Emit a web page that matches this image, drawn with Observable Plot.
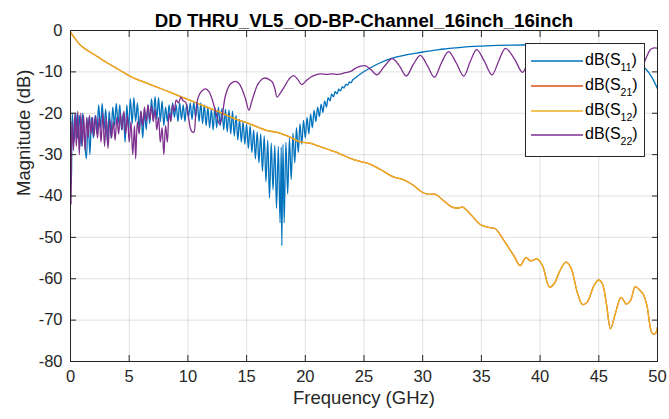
<!DOCTYPE html>
<html>
<head>
<meta charset="utf-8">
<script src="https://cdn.jsdelivr.net/npm/d3@7"></script>
<script src="https://cdn.jsdelivr.net/npm/@observablehq/plot@0.6"></script>
<style>
  html, body { margin: 0; padding: 0; background: #fff; }
  #chart { position: relative; width: 669px; height: 419px; font-family: "Liberation Sans", Arial, Helvetica, sans-serif; }
  #legend { position: absolute; left: 525px; top: 43px; width: 120px; height: 114px; background: #fff; border: 1px solid #262626; box-sizing: border-box; }
  #legend svg { position: absolute; left: 0; top: 0; }
  #legend .lbl { position: absolute; left: 59px; font-size: 16px; line-height: 18px; color: #000; white-space: nowrap; }
  #legend .lbl sub { font-size: 10.5px; vertical-align: -6px; line-height: 0; }
</style>
</head>
<body>
<div id="chart"></div>
<script>
// Axis ticks
const xTicks = [0, 5, 10, 15, 20, 25, 30, 35, 40, 45, 50];
const yTicks = [-80, -70, -60, -50, -40, -30, -20, -10, 0];

// Series names and colours (MATLAB default line order)
const seriesNames = ["S11", "S21", "S12", "S22"];
const seriesColors = ["#0072BD", "#D95319", "#EDB120", "#7E2F8E"];

// dB(S11): [frequency GHz, magnitude dB]
const s11 = [
  [0, -24], [0.08, -37], [0.15, -20], [0.3, -27], [0.45, -20], [0.6, -26], [0.75, -20.5], [0.9, -28],
  [1.05, -20], [1.2, -27], [1.35, -31], [1.5, -21], [1.65, -30], [1.8, -21], [1.95, -26], [2.1, -20.5],
  [2.25, -25], [2.4, -18], [2.55, -23.5], [2.7, -17.6], [2.85, -24], [3.0, -19], [3.15, -27.5], [3.3, -19.5],
  [3.45, -26], [3.6, -18.5], [3.75, -23], [3.9, -17.6], [4.05, -22.5], [4.2, -18], [4.35, -24], [4.5, -20],
  [4.65, -27], [4.8, -18], [4.95, -24], [5.1, -16.5], [5.25, -22.5], [5.4, -16.2], [5.55, -22], [5.7, -17.5],
  [5.85, -24], [6.0, -19.5], [6.15, -26], [6.3, -19.5], [6.45, -24], [6.6, -18], [6.75, -22.5], [6.9, -16.5],
  [7.05, -21.5], [7.2, -16], [7.35, -21.5], [7.5, -16.2], [7.65, -22], [7.8, -17], [7.95, -23], [8.1, -18.5],
  [8.25, -22], [8.4, -18], [8.55, -21.5], [8.7, -17.5], [8.85, -21], [9.0, -18], [9.15, -22], [9.3, -17.5],
  [9.45, -21.5], [9.6, -18], [9.75, -22], [9.9, -17.8], [10.05, -21], [10.2, -17.5], [10.35, -21.5], [10.5, -17.3],
  [10.65, -21], [10.8, -17.3], [10.95, -22], [11.1, -17.5], [11.25, -22.5], [11.4, -18], [11.55, -23], [11.7, -18.5],
  [11.85, -23.5], [12.0, -19], [12.15, -24], [12.3, -18.5], [12.45, -23.5], [12.6, -18.5], [12.75, -23], [12.9, -18.8],
  [13.05, -24], [13.2, -19], [13.35, -24.5], [13.5, -19.2], [13.65, -25], [13.8, -19.5], [13.95, -25.5], [14.1, -20.5],
  [14.25, -26.5], [14.4, -21.5], [14.55, -27], [14.7, -22], [14.85, -27.5], [15.0, -22.5], [15.15, -28.5], [15.3, -23],
  [15.45, -29.5], [15.6, -24], [15.75, -31], [15.9, -24.5], [16.05, -32], [16.2, -25], [16.35, -34], [16.5, -25.5],
  [16.65, -36.5], [16.8, -26.5], [16.95, -40.5], [17.1, -27.2], [17.25, -38.5], [17.4, -27.8], [17.55, -43], [17.7, -28],
  [17.85, -46.5], [17.95, -28.2], [18.0, -52], [18.1, -27.5], [18.2, -46.5], [18.35, -27], [18.5, -39.5], [18.65, -26],
  [18.8, -36], [18.95, -24.8], [19.1, -32], [19.25, -23.5], [19.4, -29.5], [19.55, -22.5], [19.7, -27.5], [19.85, -21.7],
  [20.0, -26], [20.15, -21], [20.3, -25], [20.45, -20.2], [20.6, -23.5], [20.75, -19.3], [20.9, -22], [21.05, -18.5],
  [21.2, -20.8], [21.35, -17.8], [21.5, -19.8], [21.65, -17], [21.8, -18.5], [21.95, -16.2], [22.1, -17.0], [22.25, -15.4],
  [22.4, -16.0], [22.55, -14.8], [22.7, -15.3], [22.85, -14.2], [23.0, -14.6], [23.15, -13.6], [23.3, -13.9], [23.45, -13.0],
  [23.6, -13.2], [23.75, -12.5], [23.9, -12.6], [24.05, -11.9], [24.3, -11.4], [24.6, -10.7], [25.0, -9.9], [25.7, -8.8],
  [26.4, -7.8], [27.1, -7.0], [27.8, -6.4], [28.5, -5.95], [29.2, -5.6], [30.0, -5.2], [30.7, -4.9], [31.4, -4.6],
  [32.1, -4.4], [33.5, -4.0], [34.9, -3.8], [36.3, -3.6], [38.6, -3.5], [40.0, -3.4], [41.5, -3.4], [43.0, -3.6],
  [44.5, -4.1], [46.0, -5.0], [47.0, -5.9], [48.0, -7.3], [49.0, -9.3], [49.5, -11.2], [50.0, -14.1]
];

// dB(S12) — the thru path; dB(S21) carries the same values
const s12 = [
  [0, -0.3], [0.1, -0.8], [0.3, -1.6], [0.5, -2.4], [0.7, -3.1], [1, -3.9], [1.5, -4.9], [2, -5.8],
  [2.4, -6.5], [3, -7.6], [3.8, -8.9], [4.5, -10.1], [5.25, -11.3], [6, -12.2], [6.65, -12.9], [7.3, -13.6],
  [8.1, -14.5], [8.8, -15.3], [9.5, -16.1], [10.2, -16.9], [10.9, -17.7], [11.6, -18.5], [12.35, -19.3], [13.1, -20.2],
  [13.8, -21.1], [14.5, -21.8], [15.2, -22.5], [16.0, -23.4], [16.75, -24.2], [17.6, -24.6], [18.3, -25.3], [19.0, -26.2],
  [19.6, -27.0], [20.4, -27.2], [21.1, -27.9], [21.9, -28.7], [22.5, -29.3], [23.1, -30.0], [23.85, -30.9], [24.6, -31.6],
  [25.4, -32.2], [26.4, -33.6], [27.5, -35.4], [28.4, -36.1], [29.2, -37.4], [29.95, -39.1], [30.5, -39.6], [31.1, -39.6],
  [31.8, -41.2], [32.5, -42.7], [33.0, -42.9], [33.4, -42.7], [34.2, -44.8], [34.9, -46.9], [35.6, -47.6], [36.2, -47.9],
  [36.7, -49.8], [37.3, -52.4], [37.8, -54.6], [38.3, -56.8], [38.8, -54.9], [39.2, -55.7], [39.75, -55.2], [40.2, -56.8],
  [40.8, -62.0], [41.2, -61.2], [41.7, -58.0], [42.2, -56.0], [42.6, -57.2], [43.2, -63.6], [43.6, -66.2], [44.0, -65.7],
  [44.6, -61.6], [45.0, -60.3], [45.3, -61.2], [45.65, -66.1], [46.0, -72.1], [46.4, -68.5], [46.9, -64.5], [47.35, -66.1],
  [47.7, -65.3], [48.1, -61.9], [48.5, -62.8], [48.8, -63.8], [49.1, -66.5], [49.55, -73.2], [49.8, -73.3], [50, -71.7]
];
const s21 = s12;

// dB(S22)
const s22 = [
  [0, -26], [0.05, -42], [0.12, -22], [0.25, -29], [0.38, -20], [0.5, -28], [0.62, -19.5], [0.75, -30],
  [0.88, -20], [1.0, -28], [1.12, -20.5], [1.25, -29], [1.38, -21], [1.5, -26], [1.62, -20.5], [1.75, -25],
  [1.88, -21], [2.0, -25.5], [2.15, -20.5], [2.3, -26], [2.45, -21], [2.6, -27], [2.75, -20], [2.9, -28],
  [3.05, -21], [3.2, -28.5], [3.35, -21.5], [3.5, -26], [3.65, -22], [3.8, -26.5], [3.95, -21], [4.1, -25],
  [4.25, -20], [4.4, -24], [4.55, -19.5], [4.7, -25], [4.85, -20.5], [5.0, -27], [5.15, -22], [5.3, -30],
  [5.45, -23], [5.55, -31], [5.7, -22], [5.85, -25], [6.0, -19.5], [6.15, -23], [6.3, -18.5], [6.45, -22],
  [6.6, -18], [6.75, -21.5], [6.9, -18.2], [7.05, -22], [7.2, -19], [7.35, -24], [7.5, -21], [7.65, -27],
  [7.8, -23.5], [7.95, -30], [8.1, -23], [8.25, -27], [8.4, -20], [8.55, -22], [8.7, -18], [8.85, -19.5],
  [9.0, -16.8], [9.2, -17.5], [9.4, -16.1], [9.6, -17], [9.8, -17.3], [10.0, -20], [10.2, -23.5], [10.35, -24.5],
  [10.5, -24.6], [10.65, -21], [10.8, -17], [11.1, -14.9], [11.5, -14.1], [11.8, -14.8], [12.05, -16.5], [12.4, -20],
  [12.7, -22.6], [12.9, -21], [13.2, -15.7], [13.6, -13], [14.05, -12.3], [14.35, -12.8], [14.6, -14.1], [14.9, -16.5],
  [15.2, -19.3], [15.4, -17.5], [15.6, -15.7], [16.0, -12.8], [16.5, -11.5], [16.9, -11.8], [17.2, -12.5], [17.4, -14],
  [17.6, -16.1], [17.9, -15], [18.2, -13.7], [18.6, -11.8], [19.0, -10.9], [19.35, -11.8], [19.7, -13.1], [20.05, -12.2],
  [20.45, -11.3], [20.9, -10.7], [21.3, -10.5], [21.8, -10.6], [22.3, -10.5], [22.8, -10.6], [23.4, -10.2], [23.85, -9.9],
  [24.3, -9.1], [24.7, -8.6], [25.1, -8.5], [25.6, -9.5], [26.1, -10.7], [26.7, -8.8], [27.4, -6.8], [28.0, -8.5],
  [28.6, -11.0], [29.2, -8.2], [29.8, -6.0], [30.4, -8.5], [31.0, -11.3], [31.6, -7.8], [32.2, -5.1], [32.85, -7.8],
  [33.5, -11.0], [34.05, -7.5], [34.6, -4.6], [35.25, -7.4], [35.9, -10.7], [36.5, -7.2], [37.05, -4.3], [37.8, -6.8],
  [38.5, -10.1], [39.1, -6.5], [39.6, -4.3], [40.3, -7.0], [41.0, -10.0], [41.6, -7.0], [42.1, -4.2], [42.8, -7.0],
  [43.5, -10.0], [44.1, -7.0], [44.6, -4.2], [45.3, -7.0], [46.0, -10.0], [46.6, -7.0], [47.1, -4.3], [47.8, -7.0],
  [48.4, -10.0], [48.9, -7.5], [49.4, -4.6], [49.7, -4.2], [50.0, -4.3]
];

const titleText = "DD THRU_VL5_OD-BP-Channel_16inch_16inch";
const xLabel = "Frequency (GHz)";
const yLabel = "Magnitude (dB)";

const seriesData = [s11, s21, s12, s22];
const ink = "#262626";

const lineMarks = seriesData.map((data, i) =>
  Plot.line(data, {
    x: d => d[0],
    y: d => d[1],
    stroke: seriesColors[i],
    strokeWidth: 1.3,
    curve: "catmull-rom",
    clip: true
  })
);

const chart = Plot.plot({
  width: 669,
  height: 419,
  marginLeft: 70,
  marginRight: 12,
  marginTop: 30,
  marginBottom: 58,
  style: { fontFamily: '"Liberation Sans", Arial, Helvetica, sans-serif', fontSize: "16.5px", color: ink, background: "#fff", overflow: "visible" },
  x: { domain: [0, 50] },
  y: { domain: [-80, 0] },
  marks: [
    Plot.gridX(xTicks, { stroke: "#000", strokeOpacity: 0.12 }),
    Plot.gridY(yTicks, { stroke: "#000", strokeOpacity: 0.12 }),
    ...lineMarks,
    Plot.frame({ stroke: ink, strokeWidth: 1 }),
    Plot.axisX(xTicks, { anchor: "bottom", tickSize: -6, tickPadding: 15, label: null, tickFormat: d => String(d), fill: ink, stroke: ink }),
    Plot.axisX(xTicks, { anchor: "top", tickSize: -6, label: null, tickFormat: () => "", stroke: ink }),
    Plot.axisY(yTicks, { anchor: "left", tickSize: -6, tickPadding: 14, label: null, tickFormat: d => String(d), fill: ink, stroke: ink }),
    Plot.axisY(yTicks, { anchor: "right", tickSize: -6, label: null, tickFormat: () => "", stroke: ink }),
    Plot.text([titleText], { frameAnchor: "top", dy: -17, fontWeight: "bold", fontSize: 18.7, fill: "#000" }),
    Plot.text([xLabel], { frameAnchor: "bottom", dy: 42, fontSize: 18.5, fill: ink }),
    Plot.text([yLabel], { frameAnchor: "left", dx: -46, rotate: -90, fontSize: 18.5, fill: ink })
  ]
});

const root = document.getElementById("chart");
root.appendChild(chart);

// Legend box with subscripted S-parameter names
const legend = document.createElement("div");
legend.id = "legend";
const ns = "http://www.w3.org/2000/svg";
const sw = document.createElementNS(ns, "svg");
sw.setAttribute("width", "60");
sw.setAttribute("height", "112");
seriesNames.forEach((name, i) => {
  const cy = 17 + i * 24.8;
  const ln = document.createElementNS(ns, "line");
  ln.setAttribute("x1", 5);
  ln.setAttribute("x2", 57);
  ln.setAttribute("y1", Math.round(cy));
  ln.setAttribute("y2", Math.round(cy));
  ln.setAttribute("stroke", seriesColors[i]);
  ln.setAttribute("stroke-width", 1.4);
  sw.appendChild(ln);
  const lbl = document.createElement("div");
  lbl.className = "lbl";
  lbl.style.top = (cy - 10) + "px";
  lbl.innerHTML = "dB(S<sub>" + name.slice(1) + "</sub>)";
  legend.appendChild(lbl);
});
legend.appendChild(sw);
root.appendChild(legend);
</script>
</body>
</html>
